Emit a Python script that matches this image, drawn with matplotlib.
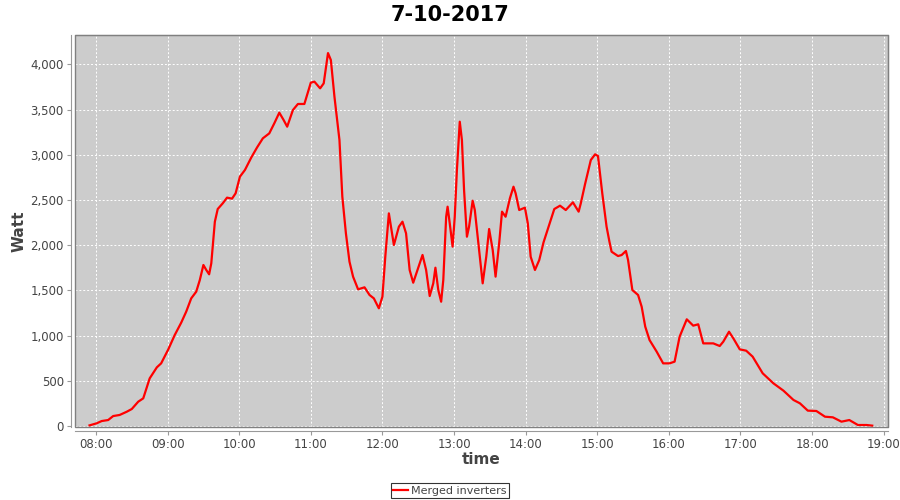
import matplotlib
matplotlib.use("Agg")
import matplotlib.pyplot as plt
from matplotlib.patches import Rectangle
from matplotlib.ticker import FuncFormatter, MultipleLocator

# time of day in decimal hours, power in watt
hours = [7.91, 8.01, 8.08, 8.17, 8.24, 8.33, 8.43, 8.50, 8.59, 8.66, 8.75, 8.85, 8.91,
         9.01, 9.10, 9.19, 9.26, 9.33, 9.40, 9.45, 9.50, 9.54, 9.58, 9.61, 9.66, 9.70,
         9.77, 9.83, 9.90, 9.95, 10.01, 10.08, 10.17, 10.25, 10.33, 10.42, 10.49, 10.56,
         10.62, 10.67, 10.75, 10.82, 10.91, 11.00, 11.05, 11.13, 11.18, 11.24, 11.28,
         11.33, 11.40, 11.44, 11.49, 11.54, 11.59, 11.66, 11.75, 11.82, 11.88, 11.95,
         12.00, 12.04, 12.09, 12.16, 12.23, 12.28, 12.33, 12.38, 12.43, 12.49, 12.56,
         12.61, 12.66, 12.71, 12.74, 12.78, 12.82, 12.85, 12.89, 12.91, 12.94, 12.98,
         13.01, 13.04, 13.08, 13.11, 13.14, 13.18, 13.21, 13.26, 13.29, 13.33, 13.37,
         13.40, 13.45, 13.49, 13.54, 13.58, 13.63, 13.67, 13.72, 13.78, 13.83, 13.86,
         13.91, 13.99, 14.03, 14.07, 14.13, 14.19, 14.25, 14.32, 14.40, 14.48, 14.56,
         14.66, 14.74, 14.77, 14.83, 14.91, 14.97, 15.01, 15.07, 15.13, 15.17, 15.20,
         15.29, 15.34, 15.40, 15.43, 15.49, 15.57, 15.62, 15.67, 15.73, 15.83, 15.92,
         16.01, 16.08, 16.15, 16.25, 16.34, 16.41, 16.48, 16.55, 16.62, 16.71, 16.76,
         16.84, 16.90, 16.99, 17.08, 17.17, 17.31, 17.46, 17.60, 17.74, 17.83, 17.94,
         18.06, 18.18, 18.29, 18.41, 18.52, 18.64, 18.76, 18.84]
watt = [7, 30, 55, 66, 110, 122, 158, 188, 269, 306, 527, 649, 693,
        848, 1007, 1143, 1265, 1412, 1486, 1615, 1781, 1726, 1678, 1799, 2260, 2400,
        2463, 2526, 2515, 2574, 2758, 2832, 2972, 3082, 3182, 3237, 3348, 3466,
        3385, 3311, 3495, 3562, 3562, 3798, 3809, 3735, 3790, 4125, 4048,
        3643, 3163, 2537, 2131, 1818, 1652, 1512, 1534, 1449, 1412, 1302,
        1431, 1873, 2352, 2002, 2205, 2260, 2131, 1726, 1585, 1726, 1892,
        1726, 1438, 1578, 1751, 1504, 1375, 1615, 2315, 2426, 2242, 1984,
        2315, 2832, 3366, 3163, 2610, 2094, 2205, 2492, 2389, 2094, 1799,
        1578, 1873, 2179, 1947, 1652, 2020, 2371, 2315, 2518, 2647, 2574,
        2389, 2415, 2242, 1873, 1726, 1836, 2032, 2205, 2400, 2437, 2389,
        2474, 2371, 2463, 2677, 2942, 3005, 2987, 2574, 2205, 2039, 1928,
        1880, 1891, 1936, 1836, 1504, 1449, 1320, 1099, 951, 822, 693,
        693, 712, 988, 1180, 1110, 1125, 914, 914, 914, 885, 933,
        1043, 970, 848, 833, 767, 583, 472, 391, 288, 251, 170,
        166, 103, 96, 48, 66, 11, 11, 4]

tick_hours = list(range(8, 20))
tick_labels = ["%02d:00" % h for h in tick_hours]

txt = "#444444"

fig = plt.figure(figsize=(9, 5), dpi=100)
ax = fig.add_axes([75 / 900, 73 / 500, 813 / 900, 392 / 500])
ax.set_facecolor("#cccccc")

ax.plot(hours, watt, color="red", lw=1.6, solid_joinstyle="round",
        label="Merged inverters")

ax.set_xlim(7.707, 19.06)
ax.set_ylim(-11, 4325)
ax.set_xticks(tick_hours)
ax.set_xticklabels(tick_labels)
ax.yaxis.set_major_locator(MultipleLocator(500))
ax.yaxis.set_major_formatter(FuncFormatter(lambda v, p: "{:,.0f}".format(v)))
ax.grid(True, color="white", linestyle=(0, (2, 2)), linewidth=0.7)

# axis lines sit slightly away from the plot area, like the original
for s in ["left", "bottom"]:
    ax.spines[s].set_position(("outward", 3))
    ax.spines[s].set_color("#999999")
for s in ["top", "right"]:
    ax.spines[s].set_color("#808080")
ax.add_patch(Rectangle((0, 0), 1, 1, transform=ax.transAxes, fill=False,
                       edgecolor="#808080", lw=1.0, clip_on=False, zorder=5))

ax.tick_params(colors="#999999", labelcolor=txt, labelsize=8.5, length=3, pad=2)
ax.set_xlabel("time", fontsize=11, fontweight="bold", color=txt, labelpad=1)
ax.set_ylabel("Watt", fontsize=11, fontweight="bold", color=txt, labelpad=3)
fig.suptitle("7-10-2017", fontsize=15, fontweight="bold", y=0.99)

leg = fig.legend(loc="lower center", bbox_to_anchor=(0.5, -0.008), fontsize=8,
                 frameon=True, fancybox=False, handlelength=1.3,
                 borderpad=0.25, handletextpad=0.3)
leg.get_frame().set_edgecolor("black")
leg.get_frame().set_linewidth(0.8)
for t in leg.get_texts():
    t.set_color(txt)

fig.savefig("out.png", dpi=100)
